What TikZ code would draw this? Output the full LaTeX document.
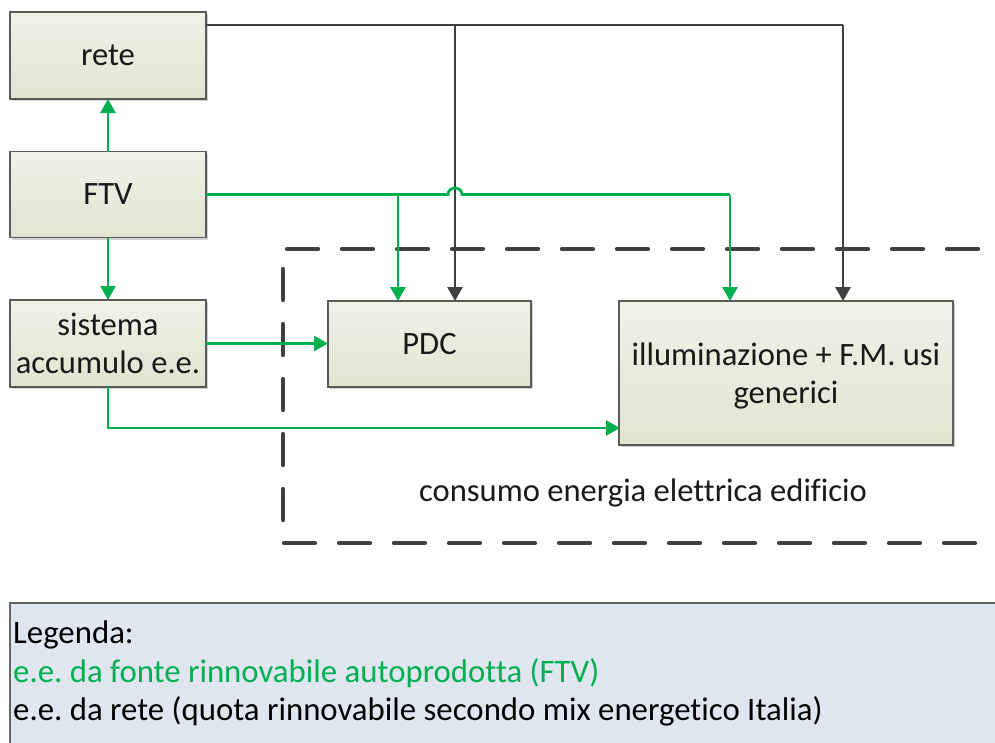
\documentclass[tikz,border=0pt]{standalone}
\usepackage{fontspec}
\setmainfont{Carlito}[Ligatures={NoCommon}]
\usetikzlibrary{arrows.meta,shadows}
\frenchspacing
\definecolor{fgreen}{HTML}{00B050}
\definecolor{fdark}{HTML}{404040}
\definecolor{fborder}{HTML}{5A5A5A}
\definecolor{ftop}{HTML}{F0F2E8}
\definecolor{fbot}{HTML}{E1E4D0}
\definecolor{flegend}{HTML}{DFE6EF}
\tikzset{
  box/.style={draw=fborder, line width=1.5pt, top color=ftop, bottom color=fbot,
    inner sep=0pt, outer sep=0pt, align=center, text=black!90,
    font=\fontsize{32.6}{38.5}\selectfont,
    drop shadow={shadow xshift=2pt, shadow yshift=-2pt, opacity=0.18, fill=black}},
  gline/.style={draw=fgreen, line width=2.8pt},
  dline/.style={draw=fdark, line width=2.8pt},
  garrow/.style={gline, -{Triangle[length=14pt,width=15pt]}},
  darrow/.style={dline, -{Triangle[length=14pt,width=15pt]}},
  dashline/.style={draw=fdark, line width=4.2pt, line cap=round,
    dash pattern=on 31pt off 24pt, dash phase=33pt},
  legtext/.style={anchor=base west, inner sep=0pt, font=\fontsize{32.8}{38}\selectfont}
}
\begin{document}
\begin{tikzpicture}[x=1pt,y=-1pt]
\useasboundingbox (0,0) rectangle (995,742);
\clip (0,0) rectangle (995,742);
\fill[white] (0,0) rectangle (995,742);

% dashed building boundary
\draw[dashline] (1000,249) -- (283,249) -- (283,543) -- (1000,543);

% boxes
\node[box, minimum width=196pt, minimum height=87pt] (rete) at (108,55.5) {rete};
\node[box, minimum width=196pt, minimum height=86pt] (ftv) at (108,194.5) {FTV};
\node[box, minimum width=196pt, minimum height=87pt] (acc) at (108,343.5) {sistema\\accumulo e.e.};
\node[box, minimum width=203pt, minimum height=86pt] (pdc) at (429.5,344) {PDC};
\node[box, minimum width=334pt, minimum height=144pt, text depth=0pt] (ill) at (786,373) {illuminazione + F.M. usi\\generici};

\node[inner sep=0pt, font=\fontsize{32.6}{38}\selectfont, text=black!90] (cons) at (643,493) {consumo energia elettrica edificio};

% grid (dark) connectors
\coordinate (r1) at (455,25);
\coordinate (r2) at (843,25);
\draw[dline] (rete.east |- r1) -- (r2);
\draw[darrow] (r1) -- (r1 |- pdc.north);
\draw[darrow] (r2) -- (r2 |- ill.north);

% green connectors
\draw[garrow] (ftv.north) -- (rete.south);
\draw[garrow] (ftv.south) -- (acc.north);
\coordinate (g1) at (398,194.5);
\coordinate (h1) at (448,194.5);
\coordinate (h2) at (462,194.5);
\coordinate (g2) at (730,194.5);
\draw[gline] (ftv.east) -- (g1) -- (h1) .. controls (448,186) and (462,186) .. (h2) -- (g2);
\draw[garrow] (g1) -- (g1 |- pdc.north);
\draw[garrow] (g2) -- (g2 |- ill.north);
\draw[garrow] (acc.east) -- (acc.east -| pdc.west);
\coordinate (c1) at (620,428);
\draw[garrow] (acc.south) |- (c1);

% legend
\draw[draw=black!60, fill=flegend, line width=1.5pt] (10,603) rectangle (1005,750);
\node[legtext] (l1) at (13,643) {Legenda:};
\node[legtext, text=fgreen] (l2) at (13,682) {e.e. da fonte rinnovabile autoprodotta (FTV)};
\node[legtext] (l3) at (13,720) {e.e. da rete (quota rinnovabile secondo mix energetico Italia)};
\end{tikzpicture}
\end{document}
